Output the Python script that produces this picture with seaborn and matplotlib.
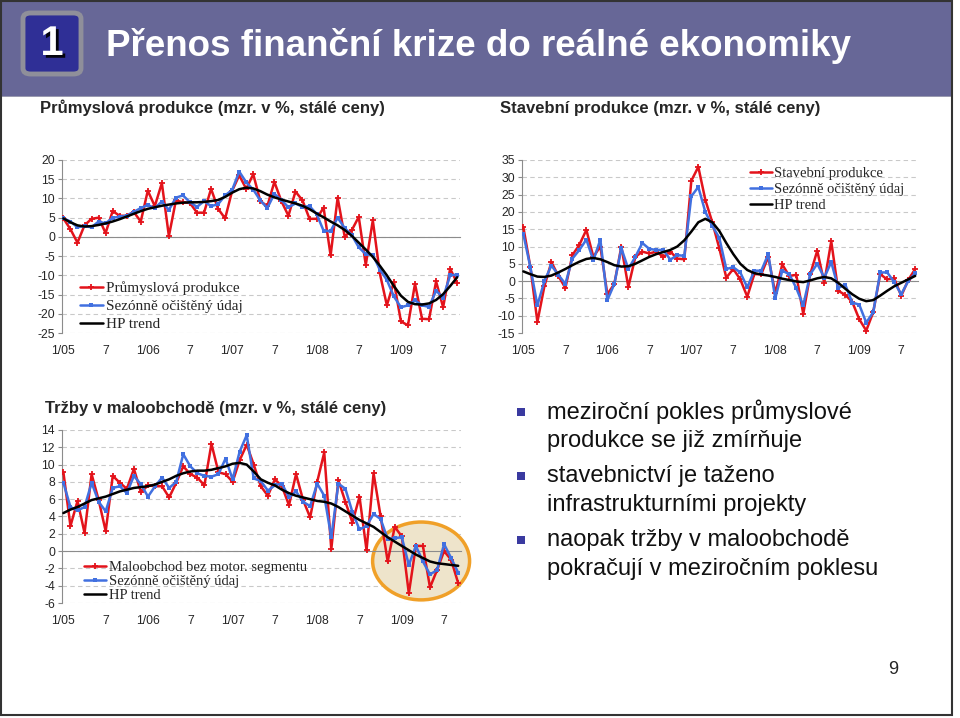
import numpy as np
import pandas as pd
import matplotlib
matplotlib.use("Agg")
import matplotlib.pyplot as plt
import seaborn as sns
from matplotlib.patches import Rectangle, FancyBboxPatch, Ellipse
import matplotlib.patheffects as pe

# months 1/05 .. 9/09
months = pd.period_range("2005-01", "2009-09", freq="M").strftime("%m/%y").tolist()
tick_pos = list(range(0, 57, 6))
tick_labels = ["1/05", "7", "1/06", "7", "1/07", "7", "1/08", "7", "1/09", "7"]

# Průmyslová produkce
ind_raw = [4.8, 2.0, -1.5, 3.0, 4.7, 5.0, 1.0, 6.7, 5.5, 5.5, 6.5, 4.0, 12.0, 8.0, 14.0, 0.2,
           9.5, 9.0, 8.8, 6.3, 6.3, 12.5, 7.3, 4.8, 12.0, 16.0, 12.5, 16.3, 9.3, 8.0, 14.3, 9.3,
           5.5, 11.8, 9.5, 4.7, 4.7, 7.6, -4.8, 10.2, 0.1, 1.7, 5.2, -7.3, 4.3, -9.5, -17.8,
           -11.7, -22.0, -23.0, -12.2, -21.3, -21.4, -11.6, -18.3, -8.3, -12.0]
ind_sa = [4.8, 4.0, 2.5, 2.8, 2.5, 4.0, 3.5, 5.0, 5.2, 5.5, 6.5, 7.5, 8.3, 7.5, 9.2, 7.0,
          10.2, 10.8, 9.0, 7.8, 9.3, 8.0, 8.5, 10.8, 12.2, 17.0, 14.2, 12.3, 9.5, 7.5, 11.2, 9.6,
          7.7, 8.7, 7.8, 8.0, 6.0, 1.6, 1.5, 5.0, 2.3, 0.5, -2.7, -4.5, -4.7, -8.5, -11.2,
          -15.5, -18.3, -17.8, -16.5, -17.8, -18.2, -14.0, -15.8, -10.0, -9.8]
ind_hp = [4.8, 3.8, 3.0, 2.7, 2.8, 3.1, 3.5, 4.0, 4.6, 5.3, 6.0, 6.7, 7.3, 7.7, 8.1, 8.4,
          8.7, 8.9, 9.0, 9.0, 9.1, 9.3, 9.6, 10.4, 11.5, 12.4, 12.8, 12.6, 11.9, 11.0, 10.3, 9.7,
          9.2, 8.7, 8.1, 7.2, 6.1, 5.1, 4.0, 3.0, 1.8, 0.3, -1.5, -3.3, -5.2, -7.5, -10.0,
          -12.8, -15.3, -16.9, -17.5, -17.6, -17.3, -16.4, -14.9, -12.8, -10.5]

# Stavební produkce
con_raw = [15.5, 4.0, -11.8, -1.5, 5.5, 1.5, -2.0, 7.5, 10.5, 14.8, 7.0, 10.0, -3.8, -0.8, 10.0, -1.7,
           7.0, 8.5, 8.0, 8.5, 7.0, 8.5, 6.5, 6.3, 29.0, 33.0, 23.5, 17.0, 9.5, 1.0, 3.5, 0.5,
           -4.5, 2.0, 2.0, 7.0, -3.5, 4.8, 1.5, 1.8, -9.5, 2.0, 8.8, -0.5, 11.5, -2.8, -4.0,
           -6.0, -11.0, -14.3, -9.0, 2.0, 0.5, 0.8, -4.3, 0.3, 3.5]
con_sa = [13.5, 4.0, -7.0, 0.0, 4.5, 1.8, -0.8, 6.5, 9.0, 12.0, 6.0, 12.0, -5.5, -0.8, 9.5, 3.5,
          7.0, 11.0, 9.3, 9.0, 9.0, 6.2, 7.5, 7.3, 24.5, 27.2, 20.0, 16.0, 12.5, 3.5, 4.0, 2.5,
          -1.8, 3.0, 3.0, 7.8, -5.0, 3.0, 2.0, -2.0, -7.0, 2.0, 5.0, 1.0, 5.5, -2.0, -1.0,
          -6.2, -6.8, -12.0, -9.0, 2.5, 2.5, -0.3, -3.8, 0.0, 2.3]
con_hp = [2.8, 2.0, 1.3, 1.2, 1.6, 2.5, 3.5, 4.6, 5.6, 6.4, 6.7, 6.3, 5.5, 4.6, 4.2, 4.3,
          5.0, 6.0, 7.0, 7.8, 8.4, 9.0, 10.0, 11.8, 14.3, 17.0, 18.0, 17.0, 14.5, 11.0, 7.8, 5.0,
          3.2, 2.3, 1.9, 1.6, 1.2, 0.7, 0.3, -0.1, -0.3, 0.2, 0.8, 1.2, 0.8, -0.5, -2.2,
          -3.8, -5.1, -5.8, -5.5, -4.2, -2.8, -1.5, -0.5, 0.5, 1.5]

# Tržby v maloobchodě
ret_raw = [9.1, 2.9, 5.8, 2.1, 8.9, 5.9, 2.3, 8.7, 7.9, 7.2, 9.5, 6.8, 7.6, 7.5, 7.5, 6.2,
           7.9, 9.8, 8.9, 8.5, 7.6, 12.4, 9.1, 8.9, 8.0, 10.5, 12.3, 10.0, 7.5, 6.4, 8.3, 7.5,
           5.3, 8.9, 5.9, 3.9, 8.0, 11.4, 0.2, 8.2, 5.7, 3.3, 6.3, 0.1, 9.0, 4.0, -1.2,
           2.8, 1.7, -4.9, 0.6, 0.6, -4.2, -2.2, 0.0, -1.0, -3.7]
ret_sa = [7.9, 5.1, 4.7, 5.1, 7.9, 5.7, 4.6, 7.3, 7.5, 6.7, 8.7, 7.7, 6.3, 7.5, 8.5, 7.3,
          8.0, 11.2, 9.8, 9.0, 8.7, 8.6, 8.9, 10.7, 8.3, 11.5, 13.4, 8.4, 8.1, 7.0, 7.6, 7.8,
          6.2, 6.9, 5.7, 5.2, 7.8, 6.4, 1.6, 7.8, 7.2, 4.5, 2.5, 2.9, 4.3, 3.7, 1.4,
          1.5, 1.6, -1.6, 0.6, -1.2, -2.7, -2.2, 0.8, -0.8, -2.5]
ret_hp = [4.4, 4.8, 5.1, 5.5, 5.9, 6.1, 6.3, 6.6, 6.9, 7.1, 7.3, 7.4, 7.5, 7.7, 8.0, 8.3,
          8.7, 9.0, 9.2, 9.3, 9.3, 9.4, 9.6, 9.8, 10.1, 10.2, 10.0, 9.2, 8.3, 7.9, 7.6, 7.1,
          6.7, 6.4, 6.2, 6.0, 5.8, 5.7, 5.5, 5.1, 4.6, 4.1, 3.6, 3.2, 2.8, 2.2, 1.6,
          1.1, 0.6, 0.1, -0.4, -0.8, -1.2, -1.4, -1.5, -1.6, -1.7]

RED = "#E3131B"
BLUE = "#4170E0"
GRID = "#C9C9C9"
AXC = "#8C8C8C"
W, H = 960, 718

sns.set_style("white")
plt.rcParams["font.family"] = ["Liberation Sans", "DejaVu Sans"]

fig = plt.figure(figsize=(9.6, 7.18), dpi=100)


def fx(px):
    return px / W


def fy(py):
    return 1 - py / H


def panel(rect, raw, sa, hp, raw_label, ylim, yticks, title, title_xy, leg_anchor, leg_size, leg_space):
    l, t, r, b = rect
    ax = fig.add_axes([fx(l), fy(b), (r - l) / W, (b - t) / H])
    x = np.arange(len(months))
    sns.lineplot(x=x, y=raw, ax=ax, color=RED, lw=1.8, marker="+", markersize=5,
                 mew=1.3, mec=RED, label=raw_label, zorder=3)
    sns.lineplot(x=x, y=sa, ax=ax, color=BLUE, lw=1.8, marker="s", markersize=3.2,
                 mew=0, mfc=BLUE, label="Sezónně očištěný údaj", zorder=4)
    sns.lineplot(x=x, y=hp, ax=ax, color="black", lw=1.8, label="HP trend", zorder=5)
    ax.set_xlim(-0.2, 56.4)
    ax.set_ylim(*ylim)
    ax.set_yticks(yticks)
    ax.set_yticklabels([str(v) for v in yticks], fontsize=8.8)
    ax.yaxis.grid(True, ls=(0, (4, 3)), color=GRID, lw=0.8)
    ax.xaxis.grid(False)
    ax.set_axisbelow(True)
    for s in ["top", "right"]:
        ax.spines[s].set_visible(False)
    ax.spines["left"].set_color(AXC)
    ax.spines["bottom"].set_color(AXC)
    ax.spines["bottom"].set_position(("data", 0))
    ax.set_xticks(x)
    ax.set_xticklabels([])
    ax.tick_params(axis="x", length=3, direction="out", color=AXC, width=0.8)
    ax.tick_params(axis="y", length=3, direction="out", color=AXC, width=0.8, pad=2, left=True)
    ax.set_xlabel("")
    ax.set_ylabel("")
    sec = ax.secondary_xaxis(0.0)
    sec.set_xticks(tick_pos)
    sec.set_xticklabels(tick_labels, fontsize=8.8)
    sec.tick_params(length=0, pad=9)
    sec.spines["bottom"].set_visible(False)
    ax.legend(loc="upper left", bbox_to_anchor=leg_anchor, frameon=False,
              prop={"family": "Liberation Serif", "size": leg_size},
              handlelength=1.5, handletextpad=0.2, labelspacing=leg_space,
              borderpad=0, borderaxespad=0)
    fig.text(fx(title_xy[0]), fy(title_xy[1]), title, fontsize=12, fontweight="bold",
             ha="left", va="center")
    return ax


# title bar
fig.add_artist(Rectangle((fx(1), fy(96)), fx(951), 95 / H, transform=fig.transFigure,
                         facecolor="#676797", edgecolor="none"))
fig.add_artist(Rectangle((fx(1), fy(97)), fx(951), 1.5 / H, transform=fig.transFigure,
                         facecolor="#9A9AB0", edgecolor="none"))
fig.add_artist(FancyBboxPatch((fx(23), fy(74)), fx(58), 61 / H, transform=fig.transFigure,
                              boxstyle="round,pad=0,rounding_size=0.008",
                              facecolor="#2F2F96", edgecolor="#8F8F9A", lw=3.5))
fig.text(fx(52), fy(44), "1", color="white", fontsize=30, fontweight="bold",
         ha="center", va="center",
         path_effects=[pe.withSimplePatchShadow(offset=(2, -2), shadow_rgbFace="black", alpha=0.9)])
fig.text(fx(106), fy(46), "Přenos finanční krize do reálné ekonomiky", color="white",
         fontsize=26.5, fontweight="bold", ha="left", va="center")

panel((62, 160, 460, 333), ind_raw, ind_sa, ind_hp, "Průmyslová produkce",
      (-25, 20), list(range(-25, 21, 5)), "Průmyslová produkce (mzr. v %, stálé ceny)",
      (40, 108), (0.045, 0.30), 11, 0.3)
panel((522, 160, 918, 333), con_raw, con_sa, con_hp, "Stavební produkce",
      (-15, 35), list(range(-15, 36, 5)), "Stavební produkce (mzr. v %, stálé ceny)",
      (500, 108), (0.575, 0.96), 10.5, 0.2)
ax3 = panel((62, 430, 461, 603), ret_raw, ret_sa, ret_hp, "Maloobchod bez motor. segmentu",
            (-6, 14), list(range(-6, 15, 2)), "Tržby v maloobchodě (mzr. v %, stálé ceny)",
            (45, 408), (0.055, 0.245), 10.5, 0.05)
ax3.add_patch(Ellipse((0.90, 0.243), 0.243, 0.45, transform=ax3.transAxes,
                      facecolor="#EEE4CB", edgecolor="#F0A028", lw=2.5, zorder=1,
                      clip_on=False))

# bullets
bullets = [(412, "meziroční pokles průmyslové"), (441, "produkce se již zmírňuje"),
           (476, "stavebnictví je taženo"), (505, "infrastrukturními projekty"),
           (540, "naopak tržby v maloobchodě"), (569, "pokračují v meziročním poklesu")]
for i, (py, txt) in enumerate(bullets):
    if i % 2 == 0:
        fig.add_artist(Rectangle((fx(517), fy(py - 5) - 9 / H), fx(8), 8 / H,
                                 transform=fig.transFigure, facecolor="#3A3AA0",
                                 edgecolor="none"))
    fig.text(fx(547), fy(py), txt, fontsize=17, ha="left", va="center", color="#111111")

fig.text(fx(893), fy(669), "9", fontsize=13, ha="center", va="center")

# slide frame
fig.add_artist(Rectangle((fx(1), fy(715)), fx(951), 714 / H, transform=fig.transFigure,
                         fill=False, edgecolor="#333333", lw=1.5))

fig.savefig("out.png", dpi=100, facecolor="white")
